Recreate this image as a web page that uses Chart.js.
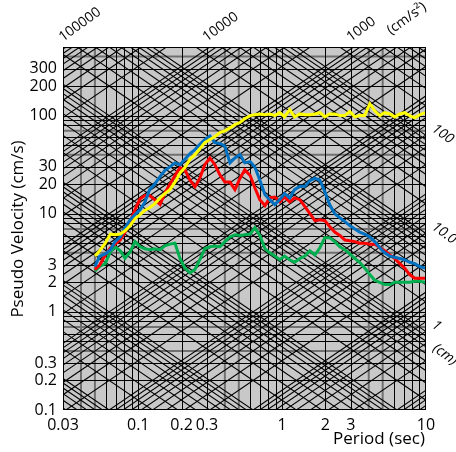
<!DOCTYPE html>
<html>
<head>
<meta charset="utf-8">
<script src="https://cdn.jsdelivr.net/npm/chart.js@4.4.1/dist/chart.umd.min.js"></script>
<style>
  html,body{margin:0;padding:0;background:#fff;}
  #wrap{width:456px;height:452px;position:relative;}
</style>
</head>
<body>
<div id="wrap"><canvas id="c" width="456" height="452"></canvas></div>
<script>
// periods (sec) shared by all four spectra
const periods = [0.05,0.054,0.059,0.064,0.069,0.075,0.081,0.088,0.095,0.103,0.111,0.12,0.13,0.142,0.153,0.166,0.18,0.195,0.211,0.229,
  0.248,0.268,0.29,0.315,0.341,0.369,0.4,0.434,0.47,0.51,0.55,0.6,0.646,0.7,0.76,0.82,0.89,0.964,1.04,1.13,
  1.22,1.33,1.44,1.56,1.69,1.83,1.98,2.14,2.32,2.52,2.73,2.95,3.2,3.46,3.75,4.07,4.4,4.77,5.17,5.6,
  6.06,6.57,7.1,7.7,8.35,9.04,9.8,10];
const yellowSV = [3.7,4.2,5.0,6.2,6.1,6.2,6.7,7.6,8.9,9.8,10.8,11.5,12.6,14.5,16,17.6,21,26,29.5,36,
  40,46,53,57,61,67,70,75,81,85,93,100,102,104,102,104,100,107,97,115,
  97,104,102,102,104,107,97,104,104,100,100,110,97,100,100,132,112,100,107,104,
  97,104,107,100,95,102,107,104];
const blueSV = [2.9,3.7,3.9,4.3,5.2,5.8,7.2,8.7,9.8,11,13,17.6,20,24,27.5,30,33,31.6,36,41,
  45,51,57,62,53,52,49,33,37,40,33,34,30,22,15.6,13.9,12.4,14,16,14.5,
  17.6,19,19,21.7,23,22,16.8,12.4,10,9.1,8.3,7.6,7,6.5,6.2,5.8,5.2,4.5,4,3.7,
  3.6,3.5,3.4,3.2,3.1,2.9,2.8,2.8];
const redSV = [2.7,3.0,3.8,4.5,4.9,5.4,6.5,8.3,11,14.2,15.3,15.3,13.9,12.4,16.3,20,24.5,29.5,28,22,
  18.8,23,31.6,37,31.6,25,21,21,17.6,23,28,24.5,18.4,13.9,12.1,14.5,14.8,13.2,14.8,13.2,
  14.5,13.9,11.8,10,8.5,8.7,8.5,7.4,6.5,6,5.4,5.3,5.2,5.0,5.0,4.9,4.9,4.5,4.2,3.8,
  3.5,3.1,2.8,2.4,2.2,2.2,2.2,2.2];
const greenSV = [2.6,2.9,3.1,4.1,4.6,4.2,3.5,4.1,5.2,4.6,4.4,4.3,4.4,4.3,4.7,4.9,5.0,3.5,2.8,2.5,
  2.7,3.4,4.4,4.6,4.7,4.6,5.2,5.8,6.1,6.0,6.1,6.2,7.2,6.0,4.4,4.0,3.7,3.4,3.7,3.4,
  3.2,3.5,3.7,4.2,3.8,4.5,5.7,5.7,5.2,4.6,4.3,3.9,3.5,3.2,2.8,2.4,2.1,2.0,1.9,1.9,
  2.0,2.0,2.0,2.0,2.05,2.05,2.0,2.0];

const xTicks = [0.03,0.1,0.2,0.3,1,2,3,10];
const yTicks = [0.1,0.2,0.3,1,2,3,10,20,30,100,200,300];
const accLabels = [100000,10000,1000];       // cm/s^2
const dispLabels = [[100,'100'],[10,'10.0'],[1,'1']]; // cm

const FONT = '"Open Sans", "Noto Sans", sans-serif';
const pts = arr => arr.map((v,i)=>({x:periods[i], y:v}));
const TWO_PI = 2*Math.PI;

const tripartite = {
  id:'tripartite',
  beforeDatasetsDraw(chart){
    const {ctx, chartArea:a, scales:{x,y}} = chart;
    ctx.save();
    ctx.fillStyle = '#c8c8c8';
    ctx.fillRect(a.left,a.top,a.right-a.left,a.bottom-a.top);
    ctx.beginPath(); ctx.rect(a.left,a.top,a.right-a.left,a.bottom-a.top); ctx.clip();

    const grayT = [0.04,0.05,0.4,0.5,4,5];
    const graySV = [0.4,0.7,4,7,40,70,400];
    const isIn = (v,list)=>list.some(g=>Math.abs(g-v)/g<1e-6);
    // gray heavier grid
    ctx.strokeStyle = '#707070'; ctx.lineWidth = 2;
    grayT.forEach(T=>{ const px=x.getPixelForValue(T); ctx.beginPath(); ctx.moveTo(px,a.top); ctx.lineTo(px,a.bottom); ctx.stroke(); });
    graySV.forEach(v=>{ const py=y.getPixelForValue(v); ctx.beginPath(); ctx.moveTo(a.left,py); ctx.lineTo(a.right,py); ctx.stroke(); });

    // black period / velocity grid
    ctx.strokeStyle = '#000'; ctx.lineWidth = 1;
    for(let n=-2;n<=1;n++) for(let k=1;k<=9;k++){
      const T = k*Math.pow(10,n);
      if(T<0.03-1e-9 || T>10+1e-9 || isIn(T,grayT)) continue;
      const px = Math.round(x.getPixelForValue(T))+0.5;
      ctx.beginPath(); ctx.moveTo(px,a.top); ctx.lineTo(px,a.bottom); ctx.stroke();
    }
    for(let n=-1;n<=2;n++) for(let k=1;k<=9;k++){
      const v = k*Math.pow(10,n);
      if(v<0.1-1e-9 || v>500 || isIn(v,graySV)) continue;
      const py = Math.round(y.getPixelForValue(v))+0.5;
      ctx.beginPath(); ctx.moveTo(a.left,py); ctx.lineTo(a.right,py); ctx.stroke();
    }
    // acceleration lines: SV = SA*T/2pi
    ctx.lineWidth = 1.1;
    for(let n=-2;n<=5;n++) for(let k=1;k<=9;k++){
      const sa = k*Math.pow(10,n);
      ctx.beginPath();
      ctx.moveTo(x.getPixelForValue(0.03), y.getPixelForValue(sa*0.03/TWO_PI));
      ctx.lineTo(x.getPixelForValue(10), y.getPixelForValue(sa*10/TWO_PI));
      ctx.stroke();
    }
    // displacement lines: SV = 2pi*SD/T
    for(let n=-4;n<=2;n++) for(let k=1;k<=9;k++){
      const sd = k*Math.pow(10,n);
      ctx.beginPath();
      ctx.moveTo(x.getPixelForValue(0.03), y.getPixelForValue(TWO_PI*sd/0.03));
      ctx.lineTo(x.getPixelForValue(10), y.getPixelForValue(TWO_PI*sd/10));
      ctx.stroke();
    }
    ctx.restore();
  },
  afterDatasetsDraw(chart){
    const {ctx, chartArea:a} = chart;
    ctx.save();
    ctx.strokeStyle='#000'; ctx.lineWidth=1;
    ctx.strokeRect(Math.round(a.left)+0.5,Math.round(a.top)+0.5,Math.round(a.right-a.left)-1,Math.round(a.bottom-a.top)-1);
    ctx.restore();
  },
  afterDraw(chart){
    const {ctx, chartArea:a, scales:{x,y}} = chart;
    const ang = 36*Math.PI/180;
    ctx.save();
    ctx.fillStyle='#000';
    // axis titles
    ctx.font = '17px '+FONT;
    ctx.textAlign='center'; ctx.textBaseline='middle';
    ctx.save(); ctx.translate(18,229); ctx.rotate(-Math.PI/2); ctx.fillText('Pseudo Velocity (cm/s)',0,0); ctx.restore();
    ctx.fillText('Period (sec)',379,439);
    // acceleration labels along top
    ctx.font = '14px '+FONT;
    ctx.textAlign='left'; ctx.textBaseline='alphabetic';
    accLabels.forEach(sa=>{
      const px = x.getPixelForValue(TWO_PI*y.max/sa);
      ctx.save(); ctx.translate(px-3,a.top-5); ctx.rotate(-ang); ctx.fillText(String(sa),0,0); ctx.restore();
    });
    ctx.save(); ctx.translate(391,a.top-12); ctx.rotate(-ang); ctx.fillText('(cm/s\u00B2)',0,0); ctx.restore();
    // displacement labels along right
    ctx.font = 'italic 14px '+FONT;
    dispLabels.forEach(([sd,txt])=>{
      const py = y.getPixelForValue(TWO_PI*sd/x.max);
      ctx.save(); ctx.translate(a.right+5,py-5); ctx.rotate(ang); ctx.fillText(txt,0,0); ctx.restore();
    });
    ctx.save(); ctx.translate(a.right+6,a.top+303); ctx.rotate(ang); ctx.fillText('(cm)',0,0); ctx.restore();
    ctx.restore();
  }
};

const line = (data,color)=>({data:pts(data), borderColor:color, backgroundColor:color, borderWidth:3, pointRadius:0, tension:0, fill:false});

new Chart(document.getElementById('c'), {
  type:'line',
  data:{ datasets:[
    line(yellowSV,'#ffff00'),
    line(blueSV,'#0070c0'),
    line(redSV,'#ff0000'),
    line(greenSV,'#00b050')
  ]},
  options:{
    responsive:false, animation:false, devicePixelRatio:1,
    layout:{padding:{top:47,right:30,left:0,bottom:0}},
    plugins:{legend:{display:false}, tooltip:{enabled:false}},
    scales:{
      x:{ type:'logarithmic', min:0.03, max:10,
        grid:{display:false, drawTicks:false}, border:{display:false},
        afterBuildTicks:s=>{ s.ticks = xTicks.map(v=>({value:v})); },
        afterFit:s=>{ s.height = 42; },
        ticks:{ autoSkip:false, maxRotation:0, padding:6, color:'#000', font:{family:FONT,size:16},
          callback:v=>String(v) } },
      y:{ type:'logarithmic', min:0.1, max:500,
        grid:{display:false, drawTicks:false}, border:{display:false},
        afterBuildTicks:s=>{ s.ticks = yTicks.map(v=>({value:v})); },
        afterFit:s=>{ s.width = 63; },
        ticks:{ autoSkip:false, padding:6, color:'#000', font:{family:FONT,size:16},
          callback:v=>String(v) } }
    }
  },
  plugins:[tripartite]
});
</script>
</body>
</html>
